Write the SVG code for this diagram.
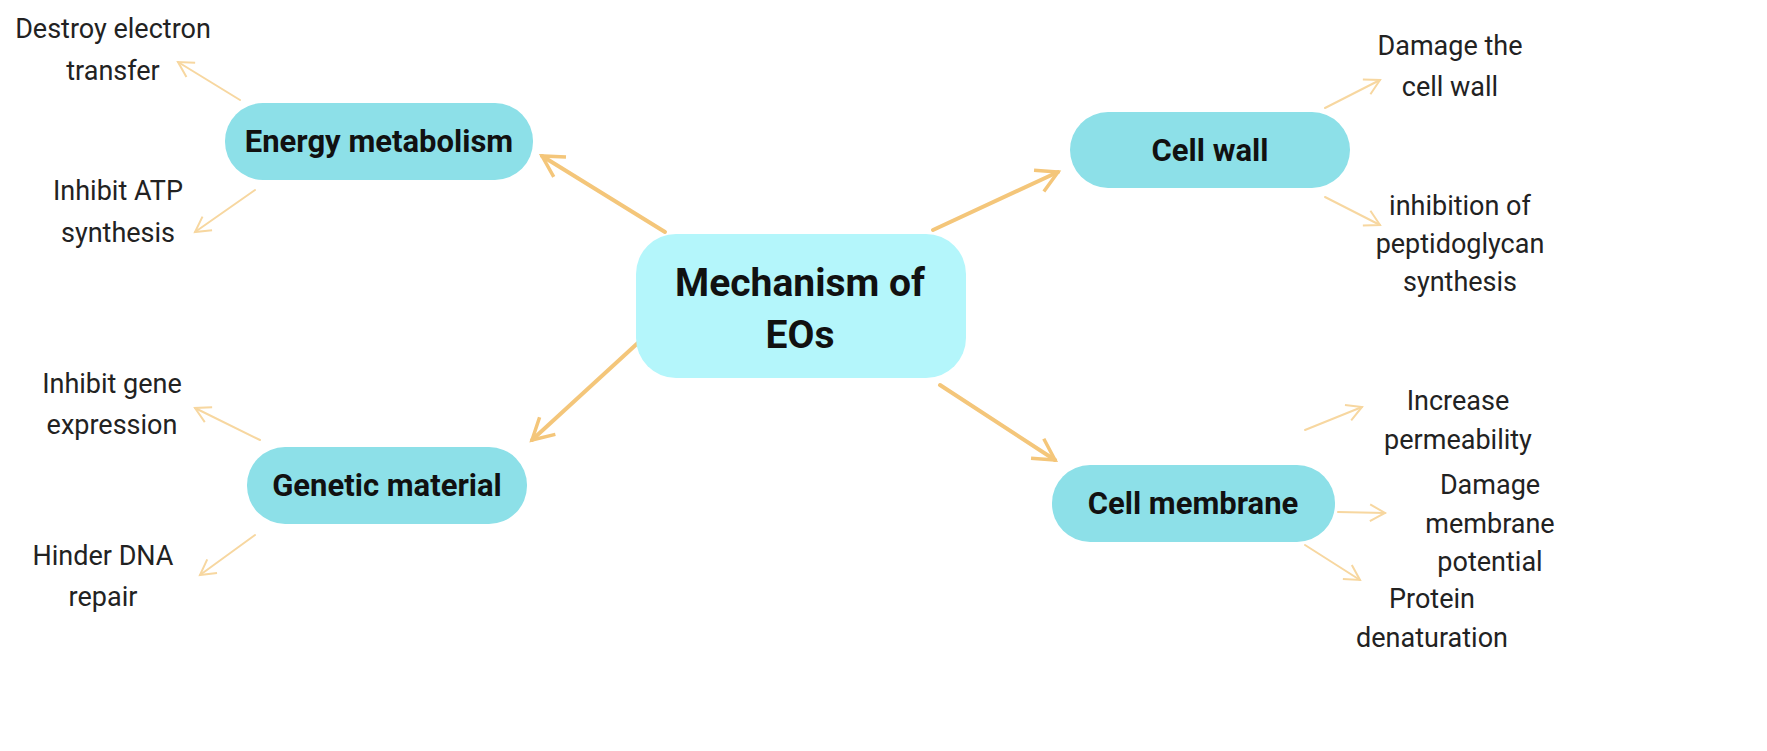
<svg xmlns="http://www.w3.org/2000/svg" width="1767" height="751" viewBox="0 0 1767 751">
<style>
.n{fill:#8de0e8}
.c{fill:#b4f6fb}
.b{font-family:Roboto,"Liberation Sans",sans-serif;font-weight:bold;fill:#111;text-anchor:middle}
.t{font-family:Roboto,"Liberation Sans",sans-serif;font-size:27px;fill:#222;text-anchor:middle}
.k{stroke:#f4c67a;stroke-width:4;fill:none;stroke-linecap:round}
.s{stroke:#f7d7a0;stroke-width:2;fill:none;stroke-linecap:round}
</style>
<defs>
<marker id="ah" viewBox="0 0 12 12" refX="10" refY="6" markerWidth="7" markerHeight="7" markerUnits="strokeWidth" orient="auto"><path d="M1,1 L10,6 L1,11" fill="none" stroke="#f4c67a" stroke-width="1.5"/></marker>
<marker id="ahs" viewBox="0 0 12 12" refX="10" refY="6" markerWidth="10" markerHeight="10" markerUnits="strokeWidth" orient="auto"><path d="M1,1 L10,6 L1,11" fill="none" stroke="#f7d7a0" stroke-width="1.2"/></marker>
</defs>
<rect width="1767" height="751" fill="#fff"/>
<g id="connectors">
<line class="k" x1="665" y1="232" x2="542" y2="156" marker-end="url(#ah)"/>
<line class="k" x1="933" y1="230" x2="1058" y2="172" marker-end="url(#ah)"/>
<line class="k" x1="640" y1="341" x2="532" y2="440" marker-end="url(#ah)"/>
<line class="k" x1="940" y1="385" x2="1055" y2="460" marker-end="url(#ah)"/>
<line class="s" x1="240" y1="100" x2="178" y2="62" marker-end="url(#ahs)"/>
<line class="s" x1="255" y1="190" x2="195" y2="232" marker-end="url(#ahs)"/>
<line class="s" x1="1325" y1="108" x2="1380" y2="80" marker-end="url(#ahs)"/>
<line class="s" x1="1325" y1="197" x2="1380" y2="225" marker-end="url(#ahs)"/>
<line class="s" x1="260" y1="440" x2="195" y2="408" marker-end="url(#ahs)"/>
<line class="s" x1="255" y1="535" x2="200" y2="575" marker-end="url(#ahs)"/>
<line class="s" x1="1305" y1="430" x2="1362" y2="407" marker-end="url(#ahs)"/>
<line class="s" x1="1338" y1="512" x2="1385" y2="513" marker-end="url(#ahs)"/>
<line class="s" x1="1305" y1="545" x2="1360" y2="580" marker-end="url(#ahs)"/>
</g>
<g id="center"><rect class="c" x="636" y="234" width="330" height="144" rx="40"/>
<text class="b" font-size="39" x="800" y="296">Mechanism of</text><text class="b" font-size="39" x="800" y="348">EOs</text></g>
<g id="energy"><rect class="n" x="225" y="103" width="308" height="77" rx="38"/><text class="b" font-size="31" x="379" y="152">Energy metabolism</text></g>
<g id="cellwall"><rect class="n" x="1070" y="112" width="280" height="76" rx="38"/><text class="b" font-size="31" x="1210" y="161">Cell wall</text></g>
<g id="genetic"><rect class="n" x="247" y="447" width="280" height="77" rx="38"/><text class="b" font-size="31" x="387" y="496">Genetic material</text></g>
<g id="membrane"><rect class="n" x="1052" y="465" width="283" height="77" rx="38"/><text class="b" font-size="31" x="1193" y="514">Cell membrane</text></g>
<g id="leaves">
<text class="t" x="113" y="38">Destroy electron</text><text class="t" x="113" y="80">transfer</text>
<text class="t" x="118" y="200">Inhibit ATP</text><text class="t" x="118" y="242">synthesis</text>
<text class="t" x="1450" y="55">Damage the</text><text class="t" x="1450" y="96">cell wall</text>
<text class="t" x="1460" y="215">inhibition of</text><text class="t" x="1460" y="253">peptidoglycan</text><text class="t" x="1460" y="291">synthesis</text>
<text class="t" x="112" y="393">Inhibit gene</text><text class="t" x="112" y="434">expression</text>
<text class="t" x="103" y="565">Hinder DNA</text><text class="t" x="103" y="606">repair</text>
<text class="t" x="1458" y="410">Increase</text><text class="t" x="1458" y="449">permeability</text>
<text class="t" x="1490" y="494">Damage</text><text class="t" x="1490" y="533">membrane</text><text class="t" x="1490" y="571">potential</text>
<text class="t" x="1432" y="608">Protein</text><text class="t" x="1432" y="647">denaturation</text>
</g>
</svg>
